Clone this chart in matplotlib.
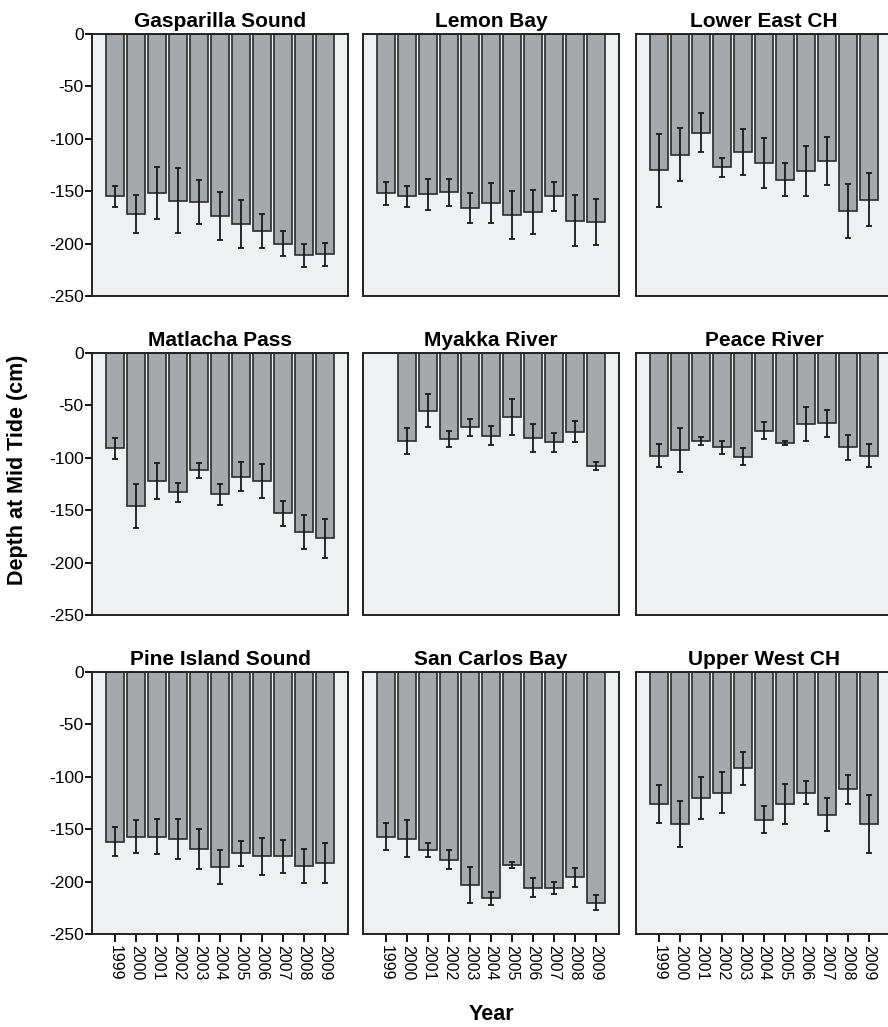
import numpy as np
import matplotlib.pyplot as plt

plt.rcParams['font.family'] = ['Liberation Sans', 'DejaVu Sans']

years = ['1999', '2000', '2001', '2002', '2003', '2004', '2005', '2006', '2007', '2008', '2009']

sites = ['Gasparilla Sound', 'Lemon Bay', 'Lower East CH',
         'Matlacha Pass', 'Myakka River', 'Peace River',
         'Pine Island Sound', 'San Carlos Bay', 'Upper West CH']

# mean depth at mid tide (cm), one value per year (nan = no data)
gasparilla = [-155, -172, -152, -159, -160, -174, -181, -188, -200, -211, -210]
lemon_bay = [-152, -155, -153, -151, -166, -161, -173, -170, -155, -178, -179]
lower_east = [-130, -115, -94, -127, -113, -123, -139, -131, -121, -169, -158]
matlacha = [-91, -146, -122, -133, -112, -135, -118, -122, -153, -171, -177]
myakka = [np.nan, -84, -55, -82, -71, -79, -61, -81, -85, -75, -108]
peace = [-98, -93, -84, -90, -99, -74, -86, -68, -67, -90, -98]
pine_island = [-162, -157, -157, -159, -169, -186, -173, -176, -176, -185, -182]
san_carlos = [-157, -159, -170, -179, -203, -216, -184, -206, -206, -196, -220]
upper_west = [-126, -145, -120, -115, -92, -141, -126, -115, -136, -112, -145]

# error bar half-widths (cm)
gasparilla_err = [10, 18, 25, 31, 21, 23, 23, 16, 12, 11, 11]
lemon_bay_err = [11, 10, 15, 13, 14, 19, 23, 21, 14, 24, 22]
lower_east_err = [35, 25, 19, 9, 22, 24, 16, 24, 23, 26, 25]
matlacha_err = [10, 21, 17, 9, 7, 10, 14, 16, 12, 16, 19]
myakka_err = [0, 12, 16, 8, 8, 9, 17, 13, 9, 10, 4]
peace_err = [11, 21, 4, 6, 8, 8, 2, 16, 13, 12, 11]
pine_island_err = [14, 16, 17, 19, 19, 16, 12, 18, 16, 16, 19]
san_carlos_err = [13, 18, 7, 9, 17, 6, 3, 9, 6, 9, 7]
upper_west_err = [18, 22, 20, 20, 16, 13, 19, 11, 16, 14, 28]

means = [gasparilla, lemon_bay, lower_east, matlacha, myakka, peace,
         pine_island, san_carlos, upper_west]
errs = [gasparilla_err, lemon_bay_err, lower_east_err, matlacha_err, myakka_err,
        peace_err, pine_island_err, san_carlos_err, upper_west_err]

W, H = 888, 1027
fig = plt.figure(figsize=(W / 100, H / 100), dpi=100)

col_left = [92, 363, 636]
row_top = [34, 353, 672]
ax_w, ax_h = 256, 262

x = np.arange(len(years))
for i, site in enumerate(sites):
    r, c = divmod(i, 3)
    ax = fig.add_axes([col_left[c] / W, 1 - (row_top[r] + ax_h) / H, ax_w / W, ax_h / H])
    ax.set_facecolor('#eff0f2')
    ax.bar(x, means[i], width=0.86, color='#a7a8ab', edgecolor='#2b2b2b', linewidth=1.2,
           zorder=2)
    ax.errorbar(x, means[i], yerr=errs[i], fmt='none', ecolor='#1a1a1a', elinewidth=1.3,
                capsize=2.3, capthick=1.3, zorder=3)
    ax.set_xlim(-1.12, 11.1)
    ax.set_ylim(-250, 0)
    for s in ax.spines.values():
        s.set_linewidth(1.4)
        s.set_color('#222222')
    ax.set_title(site, fontsize=15, fontweight='bold', pad=5)
    if c == 0:
        ax.set_yticks([0, -50, -100, -150, -200, -250])
        ax.set_yticklabels(['0', '-50', '-100', '-150', '-200', '-250'], fontsize=12.5)
        ax.tick_params(axis='y', length=5, width=1.3, pad=1)
    else:
        ax.set_yticks([])
    if r == 2:
        ax.set_xticks(x)
        ax.set_xticklabels(years, rotation=-90, fontsize=11.5)
        ax.tick_params(axis='x', length=6, width=1.3, pad=2)
    else:
        ax.set_xticks([])

fig.text(18 / W, 1 - 470 / H, 'Depth at Mid Tide (cm)', rotation=90, fontsize=15.5,
         fontweight='bold', ha='center', va='center')
fig.text(491 / W, 1 - 1014 / H, 'Year', fontsize=15.5, fontweight='bold',
         ha='center', va='center')

fig.savefig('out.png', dpi=100, facecolor='white')
